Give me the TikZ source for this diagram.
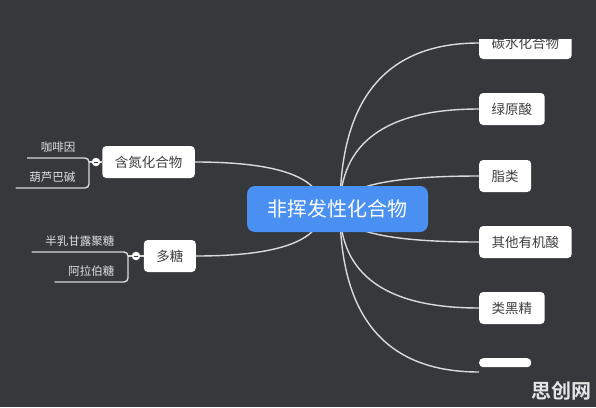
\documentclass[tikz,border=0pt]{standalone}
\usepackage{fontspec}
\setmainfont{Noto Sans CJK SC}
\newfontfamily\markfont{Noto Sans CJK SC Bold}
\usetikzlibrary{positioning,calc}
\pgfdeclarelayer{backdrop}
\pgfdeclarelayer{edges}
\pgfsetlayers{backdrop,edges,main}
\definecolor{boardgray}{RGB}{54,56,60}
\definecolor{rootblue}{RGB}{74,144,242}
\definecolor{branchgray}{RGB}{218,218,218}
\definecolor{labelgray}{RGB}{64,64,64}
\tikzset{
  root/.style={fill=rootblue, rounded corners=8pt, text=white, font=\fontsize{20}{22}\selectfont,
    minimum height=46pt, inner xsep=20.5pt},
  topic/.style={fill=white, rounded corners=4pt, text=labelgray, font=\fontsize{13.5}{15}\selectfont,
    minimum height=32pt, inner xsep=12.5pt},
  leaf/.style={text=white!88!black, font=\fontsize{11.5}{13}\selectfont, inner xsep=13.5pt,
    inner ysep=0pt, text height=9pt, text depth=6.6pt},
  branch/.style={draw=branchgray, line width=1.4pt},
  fold/.style={circle, fill=white, minimum size=8.5pt, inner sep=0pt,
    path picture={\draw[boardgray, line width=1pt]
      ([xshift=-2.2pt]path picture bounding box.center) -- ([xshift=2.2pt]path picture bounding box.center);}}
}
% quadratic curve from a hub to a topic, bending through the hub's column
\newcommand\bough[2]{%
  \draw[branch] (#1) .. controls ($(#1)!2/3!(#1 |- #2)$) and ($(#2)!2/3!(#1 |- #2)$) .. (#2);}

\begin{document}
\begin{tikzpicture}[x=1pt, y=-1pt]
  \useasboundingbox (0,0) rectangle (596,407);
  \begin{pgfonlayer}{backdrop}
    \fill[boardgray] (0,0) rectangle (596,407);
  \end{pgfonlayer}

  % root
  \node[root] (root) at (337.5,209) {非挥发性化合物};
  \coordinate (hubR) at (340,209);
  \coordinate (hubL) at (322,209);

  % right topics
  \begin{scope}
    \clip (0,39) rectangle (596,407);
    \node[topic, anchor=west] (tanshui) at (479,43) {碳水化合物};
  \end{scope}
  \node[topic, anchor=west] (lvyuan) at (479,109) {绿原酸};
  \node[topic, anchor=west] (zhilei) at (479,176) {脂类};
  \node[topic, anchor=west] (youji) at (479,242) {其他有机酸};
  \node[topic, anchor=west] (leihei) at (479,308) {类黑精};
  \node[topic, anchor=north west, minimum width=52pt, minimum height=9pt, inner sep=0pt] (lastbox) at (479,358) {};
  \coordinate (lastend) at (479,372);

  % left topics
  \node[topic, anchor=east] (handan) at (195,162) {含氮化合物};
  \node[topic, anchor=east] (duotang) at (196,256) {多糖};
  \node[fold] (fold1) at (96,162) {};
  \node[fold] (fold2) at (136,256) {};

  % leaves
  \node[leaf, anchor=south east] (kafei) at (89,158) {咖啡因};
  \node[leaf, anchor=south east] (huluba) at (89,188) {葫芦巴碱};
  \node[leaf, anchor=south east] (banru) at (128,252) {半乳甘露聚糖};
  \node[leaf, anchor=south east] (alabo) at (128,282) {阿拉伯糖};

  \begin{pgfonlayer}{edges}
    \foreach \c in {tanshui,lvyuan,zhilei,youji,leihei}
      {\bough{hubR}{\c.west}}
    \bough{hubR}{lastend}
    \foreach \c in {handan,duotang}
      {\bough{hubL}{\c.east}}
  \end{pgfonlayer}

  % brackets of leaves
  \draw[branch] (fold1) -- (handan.west);
  \draw[branch] (fold2) -- (duotang.west);
  \draw[branch, rounded corners=4pt] (kafei.south west) -- (kafei.south east) -- (huluba.south east) -- (huluba.south west);
  \draw[branch, rounded corners=4pt] (banru.south west) -- (banru.south east) -- (alabo.south east) -- (alabo.south west);
  \draw[branch] (fold1.west) -- (kafei.south east |- fold1);
  \draw[branch] (fold2.west) -- (banru.south east |- fold2);

  % watermark
  \node[text=white!90!black, font=\markfont\fontsize{20}{22}\selectfont] (watermark) at (561,391) {思创网};
\end{tikzpicture}
\end{document}
